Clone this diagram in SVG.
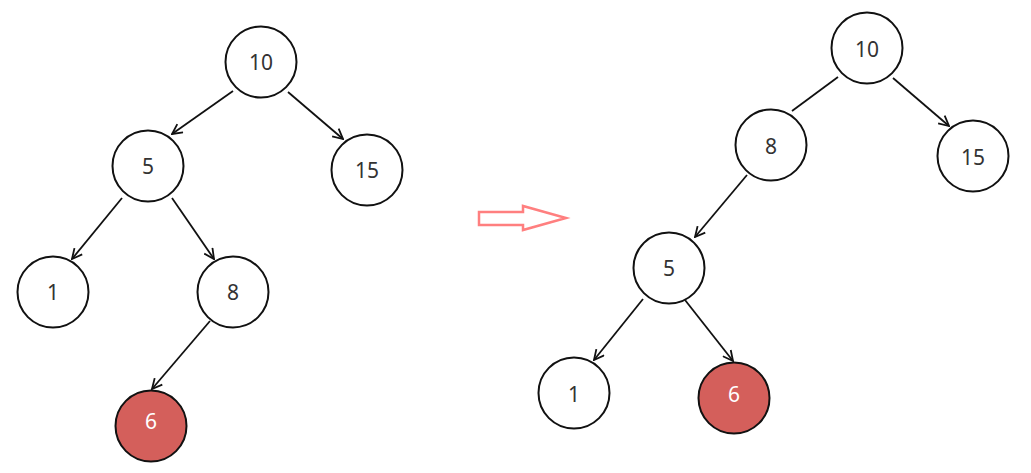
<svg xmlns="http://www.w3.org/2000/svg" width="1031" height="473" viewBox="0 0 1031 473">
<style>
.n circle{fill:#fff;stroke:#111;stroke-width:2}
.n.red circle{fill:#d45f5b}
.n text{font-family:"Noto Sans","DejaVu Sans",sans-serif;font-size:21px;fill:#333;text-anchor:middle;dominant-baseline:central}
.n.red text{fill:#fff}
.e line{stroke:#111;stroke-width:1.8;fill:none}
</style>
<defs>
<marker id="ah" viewBox="0 0 12 12" refX="11" refY="6" markerWidth="12" markerHeight="12" markerUnits="userSpaceOnUse" orient="auto">
<path d="M1,1 L11,6 L1,11" fill="none" stroke="#111" stroke-width="1.8"/>
</marker>
</defs>
<g id="connectors" class="e">
<line x1="233" y1="91" x2="172" y2="134" marker-end="url(#ah)"/>
<line x1="288" y1="92" x2="343" y2="139" marker-end="url(#ah)"/>
<line x1="122" y1="198" x2="72" y2="259" marker-end="url(#ah)"/>
<line x1="172" y1="198" x2="214" y2="259" marker-end="url(#ah)"/>
<line x1="210" y1="321" x2="152" y2="389" marker-end="url(#ah)"/>
<line x1="838" y1="77" x2="792" y2="111"/>
<line x1="893" y1="78" x2="949" y2="126" marker-end="url(#ah)"/>
<line x1="747" y1="175" x2="695" y2="237" marker-end="url(#ah)"/>
<line x1="643" y1="299" x2="594" y2="360" marker-end="url(#ah)"/>
<line x1="685" y1="300" x2="733" y2="361" marker-end="url(#ah)"/>
</g>
<g id="transform-arrow">
<path d="M479,212 L523,212 L523,206 L566,218 L523,230 L523,225 L479,225 Z" fill="#fff" stroke="#ff7f7f" stroke-width="2.5"/>
</g>
<g id="L10" class="n"><circle cx="261" cy="62" r="35.5"/><text x="261" y="62">10</text></g>
<g id="L5" class="n"><circle cx="148" cy="166" r="35.5"/><text x="148" y="166">5</text></g>
<g id="L15" class="n"><circle cx="367" cy="170" r="35.5"/><text x="367" y="170">15</text></g>
<g id="L1" class="n"><circle cx="53" cy="292" r="35.5"/><text x="53" y="292">1</text></g>
<g id="L8" class="n"><circle cx="233" cy="292" r="35.5"/><text x="233" y="292">8</text></g>
<g id="L6" class="n red"><circle cx="151" cy="426" r="35.5"/><text x="151" y="421">6</text></g>
<g id="R10" class="n"><circle cx="867" cy="48" r="35.5"/><text x="867" y="49">10</text></g>
<g id="R8" class="n"><circle cx="771" cy="145" r="35.5"/><text x="771" y="146">8</text></g>
<g id="R15" class="n"><circle cx="973" cy="156" r="35.5"/><text x="973" y="157">15</text></g>
<g id="R5" class="n"><circle cx="669" cy="268" r="35.5"/><text x="669" y="268">5</text></g>
<g id="R1" class="n"><circle cx="574" cy="393" r="35.5"/><text x="574" y="394">1</text></g>
<g id="R6" class="n red"><circle cx="734" cy="398" r="35.5"/><text x="734" y="394">6</text></g>
</svg>
